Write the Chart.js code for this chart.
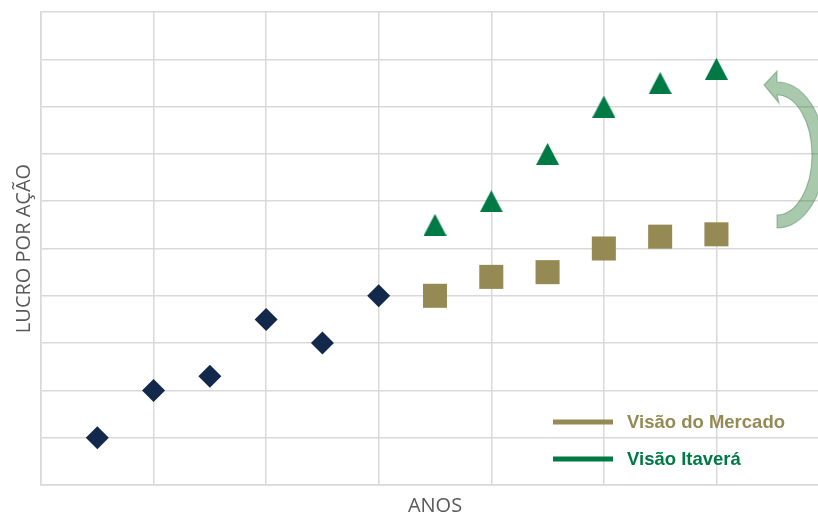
<!DOCTYPE html>
<html>
<head>
<meta charset="utf-8">
<script src="https://cdn.jsdelivr.net/npm/chart.js@4.4.1/dist/chart.umd.min.js"></script>
<style>
    body { margin: 0; overflow: hidden; background: #ffffff; }
    #wrap { width: 830px; height: 513px; }
</style>
</head>
<body>
<div id="wrap"><canvas id="lucroChart" width="830" height="513"></canvas></div>
<script>
// --- dados ---
const anosHistorico = [0.5, 1, 1.5, 2, 2.5, 3];
const lucroHistorico = [1, 2, 2.3, 3.5, 3, 4];

const anosProjecao = [3.5, 4, 4.5, 5, 5.5, 6];
const visaoMercado = [4, 4.4, 4.5, 5, 5.25, 5.3];
const visaoItavera = [5.5, 6, 7, 8, 8.5, 8.8];

const serieLabels = ["Histórico", "Visão do Mercado", "Visão Itaverá"];
const cores = ["#13294b", "#958a54", "#007a45"];

function pares(xs, ys) {
    return xs.map((x, i) => ({ x: x, y: ys[i] }));
}

// triangle marker centred on its bounding box (Excel style)
function triangleMarker(color, w, h) {
    const c = document.createElement("canvas");
    c.width = w;
    c.height = h;
    const g = c.getContext("2d");
    g.fillStyle = color;
    g.beginPath();
    g.moveTo(w / 2, 0);
    g.lineTo(w, h);
    g.lineTo(0, h);
    g.closePath();
    g.fill();
    return c;
}

// curved arrow and legend drawn over the plot
const extrasPlugin = {
    id: "extras",
    afterDatasetsDraw(chart) {
        const ctx = chart.ctx;
        ctx.save();

        // curved arrow (annotation): half ellipse band with a head pointing left
        const cx = 777, cy = 155;
        ctx.beginPath();
        ctx.moveTo(764, 85);
        ctx.lineTo(777, 71);
        ctx.lineTo(777, 82);
        ctx.ellipse(cx, cy, 48, 73, 0, -Math.PI / 2, Math.PI / 2);
        ctx.lineTo(cx, 215);
        ctx.ellipse(cx, cy, 35, 60, 0, Math.PI / 2, -Math.PI / 2, true);
        ctx.lineTo(779, 103);
        ctx.closePath();
        ctx.fillStyle = "rgba(40, 120, 50, 0.4)";
        ctx.fill();
        ctx.strokeStyle = "rgba(40, 110, 50, 0.35)";
        ctx.lineWidth = 1.2;
        ctx.stroke();

        // legend: only the two projection series
        const ys = [422, 459];
        ctx.font = "bold 18.5px 'Liberation Sans', Arial, sans-serif";
        ctx.textBaseline = "middle";
        [1, 2].forEach((di, k) => {
            const ds = chart.data.datasets[di];
            ctx.fillStyle = cores[di];
            ctx.fillRect(553, ys[k] - 2.5, 60, 5);
            ctx.fillText(ds.label, 627, ys[k] + 1);
        });
        ctx.restore();
    }
};

const gridCor = "#d9d9d9";
const tituloFonte = { family: "'Open Sans', sans-serif", size: 20 };

new Chart(document.getElementById("lucroChart"), {
    type: "scatter",
    data: {
        datasets: [
            {
                label: serieLabels[0],
                data: pares(anosHistorico, lucroHistorico),
                pointStyle: "rectRot",
                pointRadius: 11.5,
                backgroundColor: cores[0],
                borderWidth: 0
            },
            {
                label: serieLabels[1],
                data: pares(anosProjecao, visaoMercado),
                pointStyle: "rect",
                pointRadius: 17,
                backgroundColor: cores[1],
                borderWidth: 0
            },
            {
                label: serieLabels[2],
                data: pares(anosProjecao, visaoItavera),
                pointStyle: triangleMarker(cores[2], 23, 22),
                pointRadius: 12,
                backgroundColor: cores[2],
                borderWidth: 0
            }
        ]
    },
    options: {
        responsive: false,
        animation: false,
        events: [],
        layout: { autoPadding: false, padding: { top: 12, right: 1, left: 0, bottom: 0 } },
        plugins: {
            legend: { display: false },
            tooltip: { enabled: false }
        },
        scales: {
            x: {
                type: "linear",
                min: 0,
                max: 7,
                ticks: { display: false, stepSize: 1 },
                grid: { color: gridCor, lineWidth: 1.5, drawTicks: false },
                border: { color: gridCor, width: 1.5 },
                title: {
                    display: true,
                    text: "ANOS",
                    color: "#595959",
                    font: tituloFonte,
                    padding: { top: 0, bottom: -5 }
                },
                afterFit(scale) { scale.height = 28; }
            },
            y: {
                min: 0,
                max: 10,
                ticks: { display: false, stepSize: 1 },
                grid: { color: gridCor, lineWidth: 1.5, drawTicks: false },
                border: { color: gridCor, width: 1.5 },
                title: {
                    display: true,
                    text: "LUCRO POR AÇÃO",
                    color: "#595959",
                    font: tituloFonte,
                    padding: { top: 12, bottom: 0 }
                },
                afterFit(scale) { scale.width = 41; }
            }
        }
    },
    plugins: [extrasPlugin]
});
</script>
</body>
</html>
